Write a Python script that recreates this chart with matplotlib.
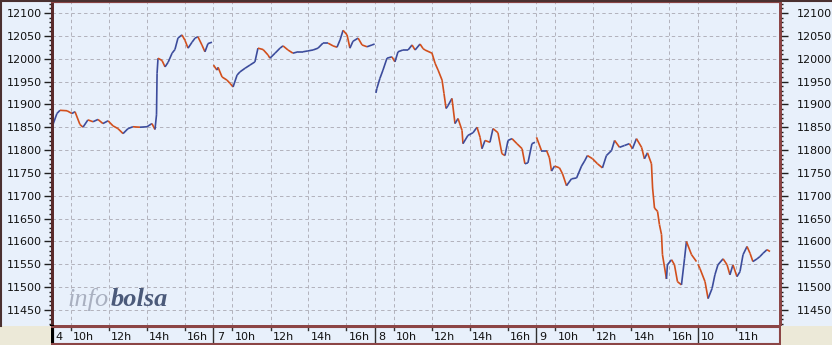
import matplotlib.pyplot as plt
import numpy as np
from matplotlib.collections import LineCollection
from matplotlib.patches import Rectangle
from matplotlib.lines import Line2D

# Intraday prices (hour of day, index level)
day_names = ['4', '7', '8', '9', '10']

d4_hours = [9.00, 9.26, 9.42, 9.79, 10.05, 10.21, 10.47, 10.63, 10.89, 11.16, 11.42, 11.68,
            11.95, 12.21, 12.47, 12.74, 13.00, 13.26, 13.63, 14.00, 14.26, 14.42, 14.50, 14.53,
            14.58, 14.79, 14.95, 15.11, 15.32, 15.47, 15.63, 15.84, 16.00, 16.16, 16.37, 16.53,
            16.68, 16.89, 17.05, 17.21, 17.42]
d4_prices = [11850, 11880, 11887, 11886, 11880, 11884, 11856, 11850, 11866, 11862, 11867, 11858,
             11864, 11853, 11847, 11836, 11847, 11851, 11850, 11851, 11858, 11845, 11877, 11968,
             12001, 11996, 11982, 11992, 12012, 12020, 12045, 12052, 12040, 12023, 12036, 12045,
             12048, 12030, 12015, 12033, 12036]

d7_hours = [9.00, 9.18, 9.24, 9.45, 9.71, 9.87, 10.03, 10.24, 10.39, 10.66, 10.92, 11.18,
            11.34, 11.61, 11.87, 11.97, 12.24, 12.50, 12.66, 12.92, 13.18, 13.45, 13.71, 13.97,
            14.24, 14.50, 14.76, 15.03, 15.29, 15.50, 15.66, 15.82, 16.03, 16.18, 16.34, 16.61,
            16.82, 17.08, 17.34, 17.48]
d7_prices = [11986, 11975, 11981, 11960, 11953, 11946, 11938, 11964, 11971, 11979, 11986, 11993,
             12023, 12020, 12008, 12001, 12012, 12023, 12028, 12019, 12012, 12015, 12015, 12017,
             12019, 12023, 12034, 12034, 12028, 12025, 12041, 12062, 12052, 12023, 12038, 12045,
             12030, 12026, 12030, 12032]

d8_hours = [9.05, 9.10, 9.26, 9.42, 9.63, 9.89, 10.05, 10.21, 10.47, 10.74, 10.95, 11.11,
            11.37, 11.53, 11.63, 12.00, 12.16, 12.32, 12.53, 12.63, 12.74, 12.84, 13.05, 13.21,
            13.37, 13.58, 13.63, 13.89, 14.16, 14.37, 14.53, 14.63, 14.79, 15.05, 15.21, 15.47,
            15.68, 15.84, 16.00, 16.21, 16.47, 16.74, 16.89, 17.05, 17.26, 17.42]
d8_prices = [11925, 11935, 11957, 11975, 12001, 12004, 11993, 12015, 12019, 12019, 12030, 12019,
             12032, 12022, 12019, 12012, 11990, 11975, 11953, 11924, 11891, 11897, 11913, 11858,
             11869, 11843, 11814, 11832, 11838, 11850, 11828, 11803, 11821, 11817, 11847, 11838,
             11792, 11788, 11821, 11825, 11814, 11803, 11770, 11772, 11814, 11817]

d9_hours = [9.00, 9.26, 9.53, 9.68, 9.79, 9.95, 10.21, 10.37, 10.58, 10.84, 11.11, 11.37,
            11.53, 11.68, 11.95, 12.21, 12.47, 12.68, 12.95, 13.11, 13.37, 13.63, 13.89, 14.05,
            14.26, 14.53, 14.68, 14.84, 15.05, 15.11, 15.21, 15.37, 15.47, 15.58, 15.63, 15.84,
            15.89, 16.11, 16.26, 16.42, 16.63, 16.79, 16.89, 17.16, 17.42]
d9_prices = [11828, 11799, 11799, 11783, 11754, 11765, 11761, 11748, 11722, 11737, 11739, 11765,
             11776, 11788, 11781, 11770, 11761, 11788, 11799, 11821, 11806, 11810, 11814, 11803,
             11825, 11806, 11781, 11794, 11770, 11717, 11673, 11666, 11637, 11615, 11571, 11518,
             11549, 11560, 11549, 11512, 11505, 11562, 11600, 11571, 11556]

d10_hours = [9.00, 9.10, 9.37, 9.53, 9.74, 9.89, 10.05, 10.32, 10.53, 10.68, 10.84, 11.05,
             11.21, 11.37, 11.58, 11.74, 11.89, 12.11, 12.26, 12.42, 12.63, 12.79]
d10_prices = [11550, 11541, 11512, 11475, 11497, 11527, 11549, 11562, 11549, 11527, 11549, 11523,
              11534, 11571, 11589, 11574, 11556, 11562, 11567, 11574, 11582, 11578]

days = [(d4_hours, d4_prices), (d7_hours, d7_prices), (d8_hours, d8_prices),
        (d9_hours, d9_prices), (d10_hours, d10_prices)]
hour_ticks = [[10, 12, 14, 16], [10, 12, 14, 16], [10, 12, 14, 16], [10, 12, 14, 16], [11]]
y_ticks = np.arange(11450, 12101, 50)

session = 8.5  # 9h to 17h30
bg = '#e8f0fb'
beige = '#ece9d8'
frame = '#8c4545'
up_col = '#3c4c9c'
down_col = '#d24f1c'

W, H = 832, 345
fig = plt.figure(figsize=(W / 100, H / 100), dpi=100, facecolor=bg)

def box(x0, y0, x1, y1):
    return [x0 / W, 1 - y1 / H, (x1 - x0) / W, (y1 - y0) / H]

ax = fig.add_axes(box(52, 2, 780, 326))
ax.set_facecolor(bg)

segs, cols = [], []
for i, (hrs, prs) in enumerate(days):
    t = i * session + np.array(hrs) - 9
    p = np.array(prs)
    for k in range(len(t) - 1):
        segs.append([(t[k], p[k]), (t[k + 1], p[k + 1])])
        cols.append(up_col if p[k + 1] >= p[k] else down_col)
ax.add_collection(LineCollection(segs, colors=cols, linewidths=1.2, capstyle='butt', zorder=3))

xmax = (780 - 52) / 19.0
ax.set_xlim(0, xmax)
ax.set_ylim(11415, 12124)

vlines = []
for i, hs in enumerate(hour_ticks):
    if i > 0:
        vlines.append(i * session)
    vlines += [i * session + h - 9 for h in hs]
ax.set_xticks(vlines)
ax.tick_params(axis='x', bottom=False, labelbottom=False)
ax.grid(True, color='#b2b2bc', linestyle=(0, (3.5, 3)), linewidth=0.7)

ax.set_yticks(y_ticks)
ax.set_yticks(np.arange(11420, 12121, 10), minor=True)
ax.tick_params(axis='y', which='major', direction='out', length=6, width=1,
               color='#202020', labelsize=8, labelcolor='#111111', pad=1.5)
ax.tick_params(axis='y', which='minor', direction='out', length=2, width=1, color='#202020')

axr = ax.twinx()
axr.set_ylim(ax.get_ylim())
axr.set_yticks(y_ticks)
axr.set_yticks(np.arange(11420, 12121, 10), minor=True)
axr.tick_params(axis='y', which='major', direction='out', length=6, width=1,
                color='#202020', labelsize=8, labelcolor='#111111', pad=6)
axr.tick_params(axis='y', which='minor', direction='out', length=2, width=1, color='#202020')

for a in (ax, axr):
    for side in ['top', 'bottom', 'left', 'right']:
        a.spines[side].set_color(frame)
    a.spines['left'].set_color('#5a2a2a')
    a.spines['left'].set_linewidth(2)
    a.spines['right'].set_linewidth(2)
    a.spines['top'].set_linewidth(1.5)
    a.spines['bottom'].set_linewidth(2)

# time strip under the chart
sx = fig.add_axes(box(52, 327, 780, 344))
sx.set_facecolor(bg)
sx.set_xlim(0, xmax)
sx.set_ylim(0, 1)
sx.set_xticks([])
sx.set_yticks([])
for side in ['top', 'bottom', 'right']:
    sx.spines[side].set_color(frame)
    sx.spines[side].set_linewidth(1.5)
sx.spines['left'].set_color('black')
sx.spines['left'].set_linewidth(3)
for i, hs in enumerate(hour_ticks):
    x0 = i * session
    if i > 0:
        sx.axvline(x0, color='#303030', linewidth=1)
    sx.text(x0 + 0.17, 0.42, day_names[i], fontsize=8, va='center', ha='left', color='#111111')
    for h in hs:
        xh = x0 + h - 9
        sx.plot([xh, xh], [1, 0.8], color='#303030', linewidth=1)
        sx.text(xh + 0.1, 0.42, f'{h}h', fontsize=8, va='center', ha='left', color='#111111')

# beige corners and outer frame
fig.patches.append(Rectangle((0, 0), 51 / W, 19 / H, transform=fig.transFigure,
                             facecolor=beige, edgecolor='none', zorder=0))
fig.patches.append(Rectangle((781 / W, 0), 51 / W, 19 / H, transform=fig.transFigure,
                             facecolor=beige, edgecolor='none', zorder=0))
fig.lines.append(Line2D([0.5 / W, 0.5 / W], [19 / H, 1], transform=fig.transFigure,
                        color='#4a3030', linewidth=1.5))
fig.lines.append(Line2D([0, 1], [1 - 0.5 / H, 1 - 0.5 / H], transform=fig.transFigure,
                        color='#4a3030', linewidth=1.5))

# watermark
fig.text(68 / W, 1 - 306 / H, 'info', fontsize=19, family='Liberation Serif',
         style='italic', color='#a9b0c0', va='baseline')
fig.text(111 / W, 1 - 306 / H, 'bolsa', fontsize=19, family='Liberation Serif',
         style='italic', weight='bold', color='#4b5a7a', va='baseline')

fig.savefig('out.png', dpi=100, facecolor=bg)
